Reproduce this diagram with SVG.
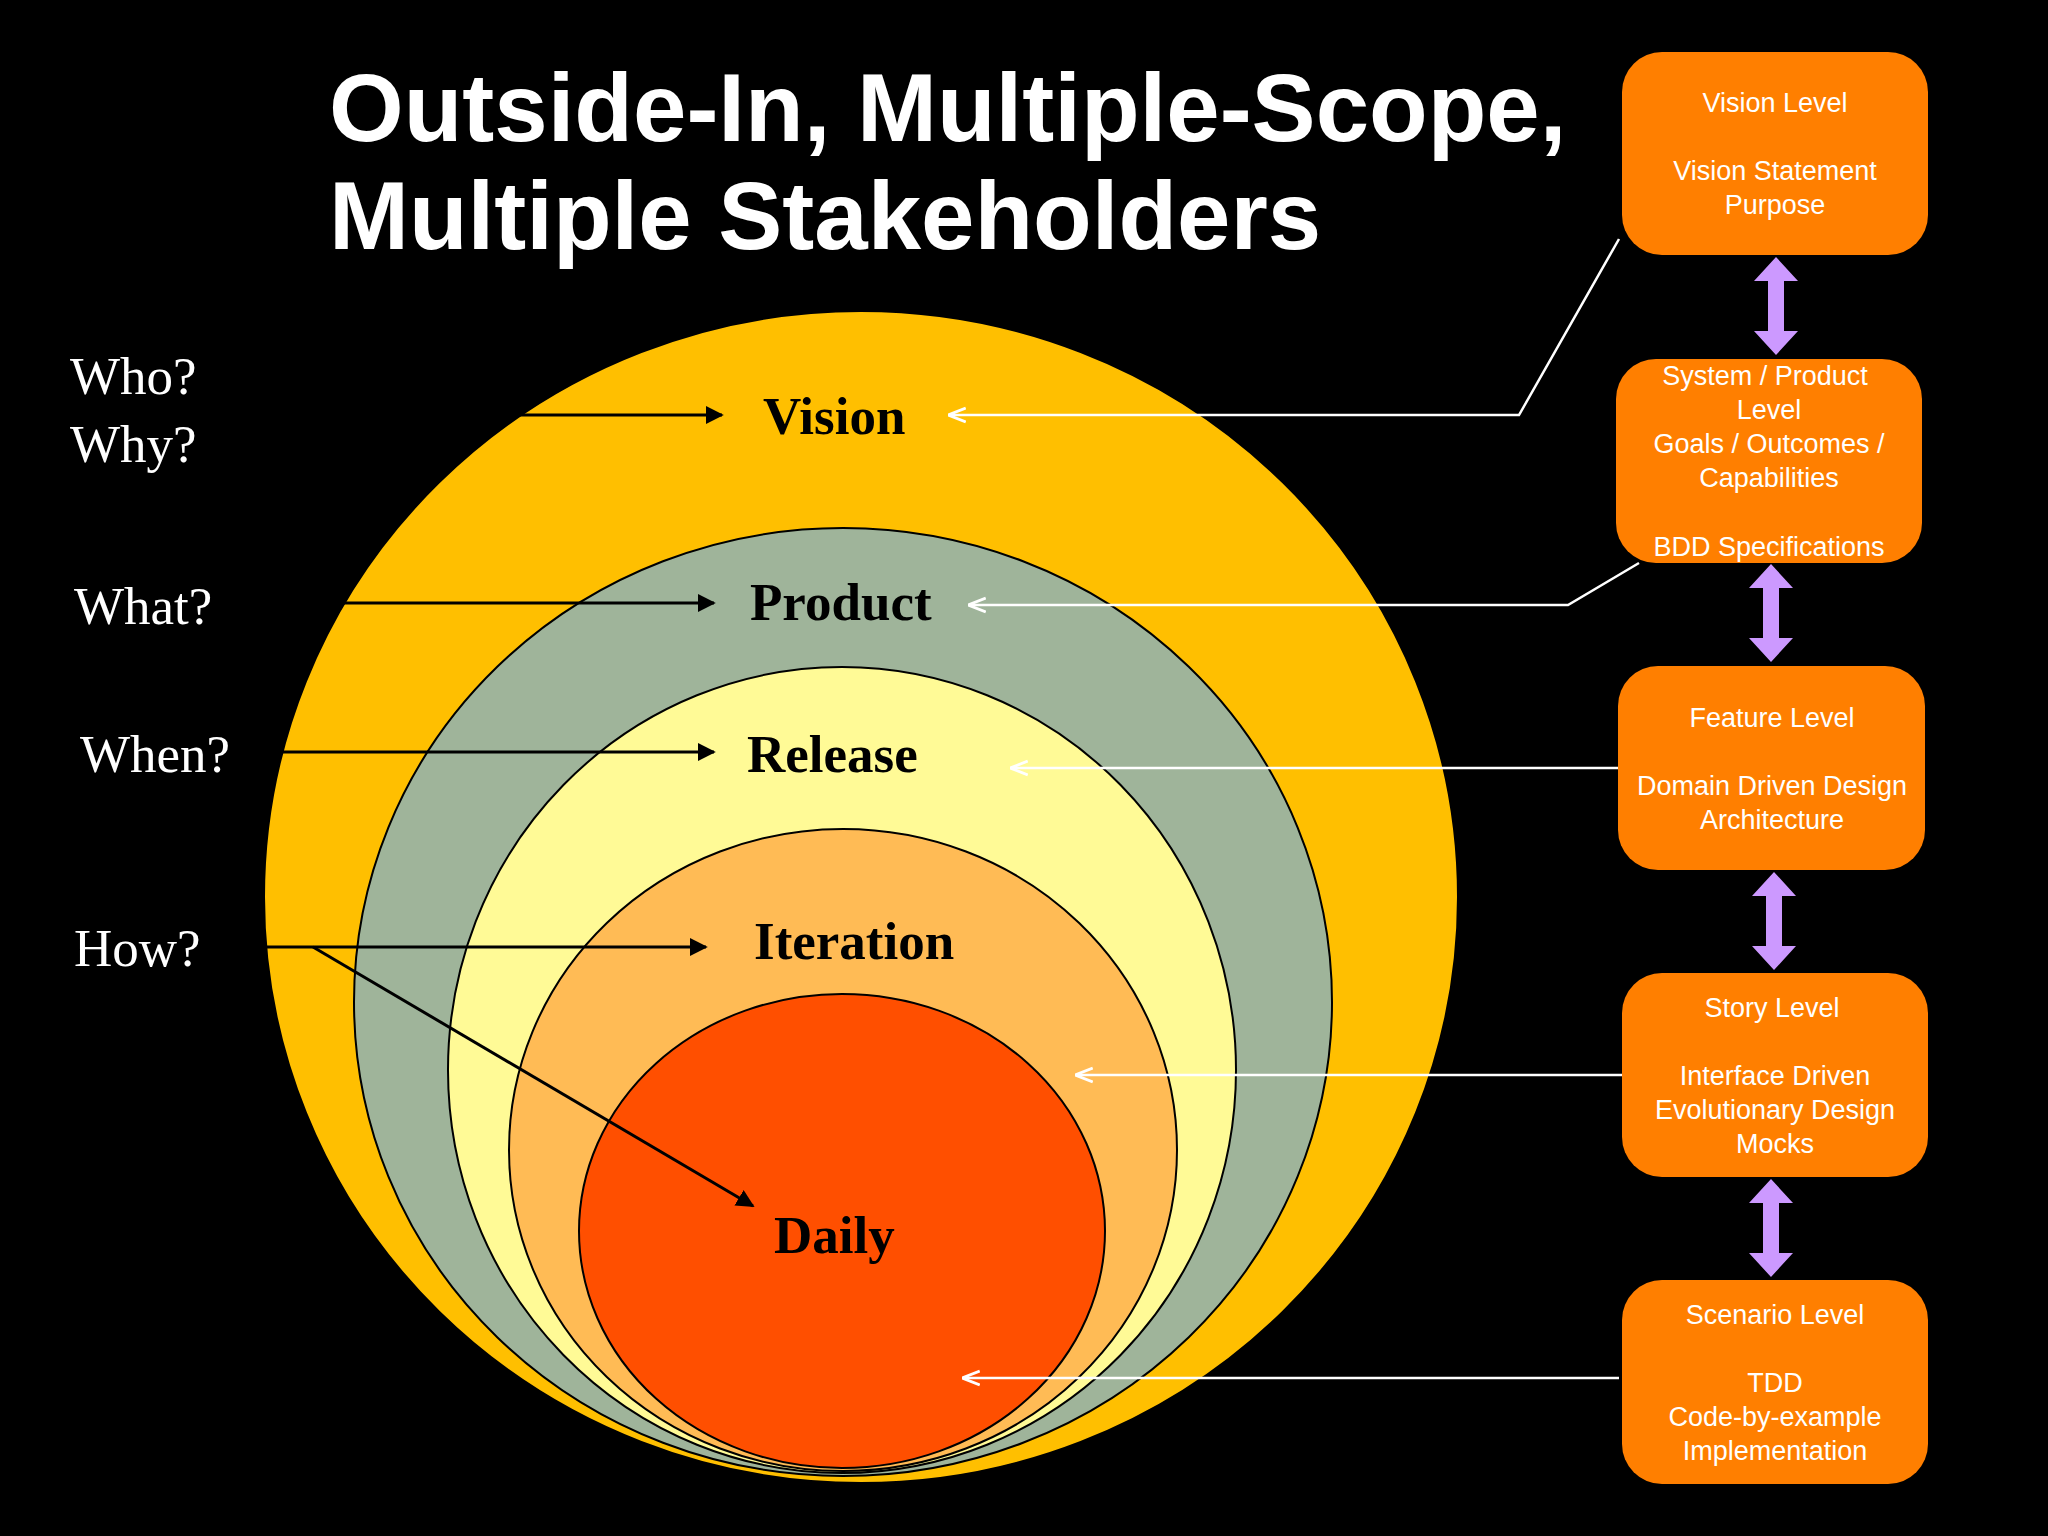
<svg xmlns="http://www.w3.org/2000/svg" width="2048" height="1536" viewBox="0 0 2048 1536">
<style>
.box{fill:#FF7F00}
.bt{font-family:"Liberation Sans",Arial,sans-serif;font-size:27px;fill:#FFFFFF;text-anchor:middle}
.ring{stroke:#000;stroke-width:2}
.lab{font-family:"Liberation Serif","Times New Roman",serif;font-size:53px;font-weight:bold;fill:#000}
.q{font-family:"Liberation Serif","Times New Roman",serif;font-size:53px;fill:#FFFFFF}
.bk{stroke:#000;stroke-width:3;fill:none;marker-end:url(#ab)}
.wh{stroke:#FFF;stroke-width:2.5;fill:none;marker-end:url(#aw)}
.dbl{fill:#CC99FF}
</style>
<defs>
<marker id="ab" viewBox="0 0 10 10" refX="9" refY="5" markerWidth="6" markerHeight="6" orient="auto" markerUnits="strokeWidth"><path d="M0,0L10,5L0,10z" fill="#000"/></marker>
<marker id="aw" viewBox="0 0 10 10" refX="9" refY="5" markerWidth="7" markerHeight="7" orient="auto" markerUnits="strokeWidth"><path d="M0,1L10,5L0,9" fill="none" stroke="#FFF" stroke-width="1.6"/></marker>
<path id="da" d="M0,-49L22,-25H8V25H22L0,49L-22,25H-8V-25H-22Z"/>
</defs>
<rect width="2048" height="1536" fill="#000"/>
<g id="title" font-family="Liberation Sans,Arial,sans-serif" font-weight="bold" font-size="96" fill="#FFF">
<text x="329" y="141">Outside-In, Multiple-Scope,</text>
<text x="329" y="249">Multiple Stakeholders</text>
</g>
<g id="circles">
<ellipse id="c-vision" class="ring" cx="861" cy="897" rx="597" ry="586" fill="#FFBF00" stroke="none"/>
<ellipse id="c-product" class="ring" cx="843" cy="1002" rx="489" ry="474" fill="#9FB49A"/>
<ellipse id="c-release" class="ring" cx="842" cy="1070" rx="394" ry="403" fill="#FFFA96"/>
<ellipse id="c-iteration" class="ring" cx="843" cy="1150" rx="334" ry="321" fill="#FFBB55"/>
<ellipse id="c-daily" class="ring" cx="842" cy="1231" rx="263" ry="237" fill="#FF4F00"/>
</g>
<g id="labels">
<text class="lab" x="763" y="434">Vision</text>
<text class="lab" x="750" y="620">Product</text>
<text class="lab" x="747" y="772">Release</text>
<text class="lab" x="754" y="959">Iteration</text>
<text class="lab" x="774" y="1253">Daily</text>
<text class="q" x="70" y="394">Who?</text>
<text class="q" x="70" y="462">Why?</text>
<text class="q" x="74" y="624">What?</text>
<text class="q" x="80" y="772">When?</text>
<text class="q" x="74" y="966">How?</text>
</g>
<g id="boxes">
<g id="b1"><rect class="box" x="1622" y="52" width="306" height="203" rx="40"/>
<text class="bt" x="1775" y="112">Vision Level</text><text class="bt" x="1775" y="180">Vision Statement</text><text class="bt" x="1775" y="214">Purpose</text></g>
<g id="b2"><rect class="box" x="1616" y="359" width="306" height="204" rx="40"/>
<text class="bt" x="1765" y="385">System / Product</text><text class="bt" x="1769" y="419">Level</text><text class="bt" x="1769" y="453">Goals / Outcomes /</text><text class="bt" x="1769" y="487">Capabilities</text><text class="bt" x="1769" y="556">BDD Specifications</text></g>
<g id="b3"><rect class="box" x="1618" y="666" width="307" height="204" rx="40"/>
<text class="bt" x="1772" y="727">Feature Level</text><text class="bt" x="1772" y="795">Domain Driven Design</text><text class="bt" x="1772" y="829">Architecture</text></g>
<g id="b4"><rect class="box" x="1622" y="973" width="306" height="204" rx="40"/>
<text class="bt" x="1772" y="1017">Story Level</text><text class="bt" x="1775" y="1085">Interface Driven</text><text class="bt" x="1775" y="1119">Evolutionary Design</text><text class="bt" x="1775" y="1153">Mocks</text></g>
<g id="b5"><rect class="box" x="1622" y="1280" width="306" height="204" rx="40"/>
<text class="bt" x="1775" y="1324">Scenario Level</text><text class="bt" x="1775" y="1392">TDD</text><text class="bt" x="1775" y="1426">Code-by-example</text><text class="bt" x="1775" y="1460">Implementation</text></g>
</g>
<g id="connectors">
<use href="#da" class="dbl" transform="translate(1776,306)"/>
<use href="#da" class="dbl" transform="translate(1771,613)"/>
<use href="#da" class="dbl" transform="translate(1774,921)"/>
<use href="#da" class="dbl" transform="translate(1771,1228)"/>
<path class="bk" d="M520,415H722"/>
<path class="bk" d="M341,603H714"/>
<path class="bk" d="M279,752H714"/>
<path class="bk" d="M264,947H706"/>
<path class="bk" d="M313,947L753,1206"/>
<path class="wh" d="M1619,239L1519,415H950"/>
<path class="wh" d="M1639,563L1568,605H970"/>
<path class="wh" d="M1618,768H1012"/>
<path class="wh" d="M1622,1075H1077"/>
<path class="wh" d="M1619,1378H964"/>
</g>
</svg>
